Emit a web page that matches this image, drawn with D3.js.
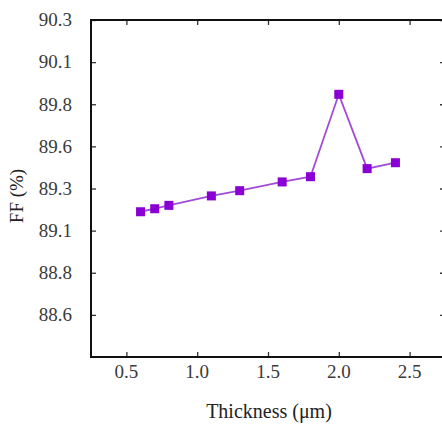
<!DOCTYPE html>
<html><head><meta charset="utf-8">
<script src="https://cdn.jsdelivr.net/npm/d3@7"></script>
<style>body{margin:0;background:#fff}svg{display:block}</style>
</head><body>
<script>
const thickness = [0.6, 0.7, 0.8, 1.1, 1.3, 1.6, 1.8, 2.0, 2.2, 2.4];
const ff = [89.212, 89.23, 89.25, 89.306, 89.337, 89.389, 89.42, 89.909, 89.468, 89.503];
const xTickValues = [0.5, 1.0, 1.5, 2.0, 2.5];
const xTickLabels = ["0.5", "1.0", "1.5", "2.0", "2.5"];
const yTickValues = [88.6, 88.85, 89.1, 89.35, 89.6, 89.85, 90.1, 90.35];
const yTickLabels = ["88.6", "88.8", "89.1", "89.3", "89.6", "89.8", "90.1", "90.3"];

const W = 442, H = 425;
const L = 91, R = 445, T = 20, B = 357;
const svg = d3.select("body").append("svg").attr("width", W).attr("height", H);
const x = d3.scaleLinear().domain([0.25, 2.75]).range([L, R]);
const y = d3.scaleLinear().domain([88.35, 90.35]).range([B, T]);
const font = "'Liberation Serif', Tinos, 'Times New Roman', serif";
const tickCol = "#333";

// ticks (inward) on all four sides
const g = svg.append("g");
g.append("g").attr("transform", `translate(0,${B})`)
  .call(d3.axisTop(x).tickValues(xTickValues).tickSize(5).tickFormat(""));
g.append("g").attr("transform", `translate(0,${T})`)
  .call(d3.axisBottom(x).tickValues(xTickValues).tickSize(5).tickFormat(""));
g.append("g").attr("transform", `translate(${L},0)`)
  .call(d3.axisRight(y).tickValues(yTickValues).tickSize(5).tickFormat(""));
g.append("g").attr("transform", `translate(${R},0)`)
  .call(d3.axisLeft(y).tickValues(yTickValues).tickSize(5).tickFormat(""));
g.selectAll(".domain").remove();
g.selectAll(".tick line").attr("stroke", tickCol).attr("stroke-width", 1.3);

// tick labels
svg.append("g").selectAll("text").data(xTickValues).join("text")
  .attr("x", d => x(d)).attr("y", 378).attr("text-anchor", "middle")
  .attr("font-family", font).attr("font-size", 19).attr("fill", "#3a3a3a")
  .text((d, i) => xTickLabels[i]);
svg.append("g").selectAll("text").data(yTickValues).join("text")
  .attr("x", 72).attr("y", d => y(d)).attr("dy", "0.33em").attr("text-anchor", "end")
  .attr("font-family", font).attr("font-size", 19).attr("fill", "#3a3a3a")
  .text((d, i) => yTickLabels[i]);

// frame
svg.append("rect").attr("x", L).attr("y", T).attr("width", R - L).attr("height", B - T)
  .attr("fill", "none").attr("stroke", "#111").attr("stroke-width", 2);

// line
svg.append("path").datum(thickness.map((t, i) => [t, ff[i]]))
  .attr("d", d3.line().x(d => x(d[0])).y(d => y(d[1])))
  .attr("fill", "none").attr("stroke", "#a24bd8").attr("stroke-width", 1.8);

// markers
const s = 9;
svg.append("g").selectAll("rect").data(thickness).join("rect")
  .attr("x", d => x(d) - s / 2).attr("y", (d, i) => y(ff[i]) - s / 2)
  .attr("width", s).attr("height", s).attr("fill", "#8a00d4");

// axis titles
svg.append("text").attr("x", 269).attr("y", 418).attr("text-anchor", "middle")
  .attr("font-family", font).attr("font-size", 20).attr("fill", "#222")
  .text("Thickness (μm)");
svg.append("text").attr("transform", "translate(23,196) rotate(-90)").attr("text-anchor", "middle")
  .attr("font-family", font).attr("font-size", 19).attr("fill", "#222")
  .text("FF (%)");
</script>
</body></html>
